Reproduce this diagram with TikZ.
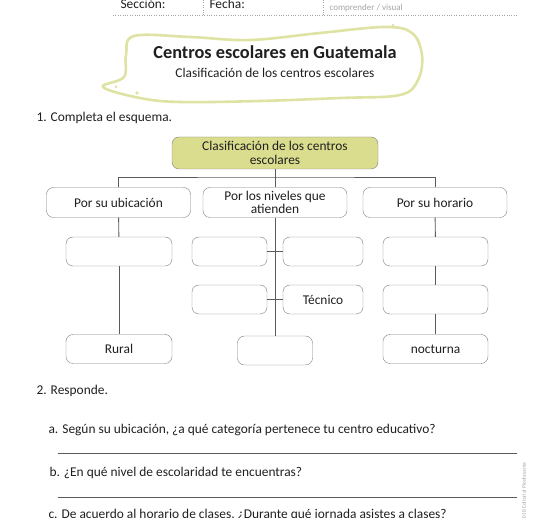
\documentclass[tikz,border=0pt]{standalone}
\usepackage{fontspec}
\setmainfont{Carlito}
\usepackage{tikz}
\usetikzlibrary{positioning,calc}
\definecolor{rootfill}{RGB}{218,221,142}
\definecolor{boxline}{RGB}{125,125,125}
\definecolor{linkgray}{RGB}{90,90,90}
\definecolor{bubblegreen}{RGB}{222,226,162}
\definecolor{softgray}{RGB}{165,165,165}

\begin{document}
\begin{tikzpicture}[x=1pt,y=-1pt,
  every node/.style={font=\fontsize{13.4}{13.5}\selectfont,text=black!88},
  rootbox/.style={draw=boxline,rounded corners=7pt,fill=rootfill,minimum width=206pt,minimum height=32pt,align=center,inner sep=0pt},
  catbox/.style={draw=boxline,rounded corners=7pt,fill=white,minimum width=144pt,minimum height=30pt,align=center,inner sep=0pt},
  leafbox/.style={draw=boxline,rounded corners=7pt,fill=white,minimum height=29pt,inner sep=0pt},
  link/.style={draw=linkgray,line width=0.9pt},
  rule/.style={draw=linkgray,line width=0.9pt}]
\useasboundingbox (0,0) rectangle (550,518);

% header of the sheet
\node[anchor=base west] (seccion) at (117,9) {Sección:};
\node[anchor=base west] (fecha)   at (206,9) {Fecha:};
\node[anchor=base west,font=\fontsize{9}{9}\selectfont,text=softgray] (tema) at (326,11) {comprender / visual};
\draw[dotted,softgray] (113,15) -- (518,15);
\draw[dotted,softgray] (203,0) -- (203,15);
\draw[dotted,softgray] (323,0) -- (323,15);

% title bubble
\draw[bubblegreen,line width=2.6pt,line cap=round]
  plot[smooth cycle,tension=0.6] coordinates {(134,36) (190,37) (250,40) (320,33) (385,27) (412,33) (422,55) (418,80) (400,95) (340,98) (260,101) (180,102) (140,98) (103,87) (124,77) (126,55)};
\fill[bubblegreen] (393,25) circle (1.3pt) (418,40) circle (1.6pt) (116,87) circle (1.5pt) (137,93) circle (1.8pt);
\node[font=\bfseries\fontsize{18.3}{19}\selectfont] (titulo) at (275,52) {Centros escolares en Guatemala};
\node (subtitulo) at (275,73) {Clasificación de los centros escolares};

\node[anchor=base west] (q1) at (33,122) {1. Completa el esquema.};

% scheme
\node[rootbox] (root) at (275,153) {Clasificación de los centros\\escolares};
\node[catbox] (ubic) at (118.5,202.5) {Por su ubicación};
\node[catbox] (niv)  at (275,202.5)   {Por los niveles que\\atienden};
\node[catbox] (hor)  at (435,202.5)   {Por su horario};

\node[leafbox,minimum width=106pt] (ubicA) at (119,251.5) {};
\node[leafbox,minimum width=106pt] (rural) at (119,349)   {Rural};

\node[leafbox,minimum width=75pt] (nivA)    at (229.5,251.5) {};
\node[leafbox,minimum width=80pt] (nivB)    at (323,251.5)   {};
\node[leafbox,minimum width=75pt] (nivC)    at (229.5,299.5) {};
\node[leafbox,minimum width=80pt] (tecnico) at (323,299.5)   {Técnico};
\node[leafbox,minimum width=75pt] (nivE)    at (275,350.5)   {};

\node[leafbox,minimum width=105pt] (horA) at (435.5,251.5) {};
\node[leafbox,minimum width=105pt] (horB) at (435.5,299.5) {};
\node[leafbox,minimum width=105pt] (noct) at (435.5,349)   {nocturna};

\coordinate (bar) at (275,177);
\draw[link] (root) -- (niv);
\draw[link] (ubic.north) |- (bar) -| (hor.north);
\draw[link] (ubic) -- (ubicA);
\draw[link] (ubicA) -- (rural);
\draw[link] (niv) -- (nivE);
\draw[link] (nivA) -- (nivB);
\draw[link] (nivC) -- (tecnico);
\draw[link] (hor) -- (horA);
\draw[link] (horA) -- (horB);
\draw[link] (horB) -- (noct);

% questions
\node[anchor=base west] (q2) at (33,395) {2. Responde.};
\node[anchor=base west] (qa) at (45,434) {a. Según su ubicación, ¿a qué categoría pertenece tu centro educativo?};
\draw[rule] (58,453) -- (517,453);
\node[anchor=base west] (qb) at (46,477) {b. ¿En qué nivel de escolaridad te encuentras?};
\draw[rule] (58,497) -- (517,497);
\node[anchor=base west] (qc) at (45,519) {c. De acuerdo al horario de clases, ¿Durante qué jornada asistes a clases?};

\node[rotate=90,anchor=east,font=\fontsize{5.5}{6}\selectfont,text=softgray] (editorial) at (524,459) {© 2018 Editorial Piedrasanta};
\end{tikzpicture}
\end{document}
